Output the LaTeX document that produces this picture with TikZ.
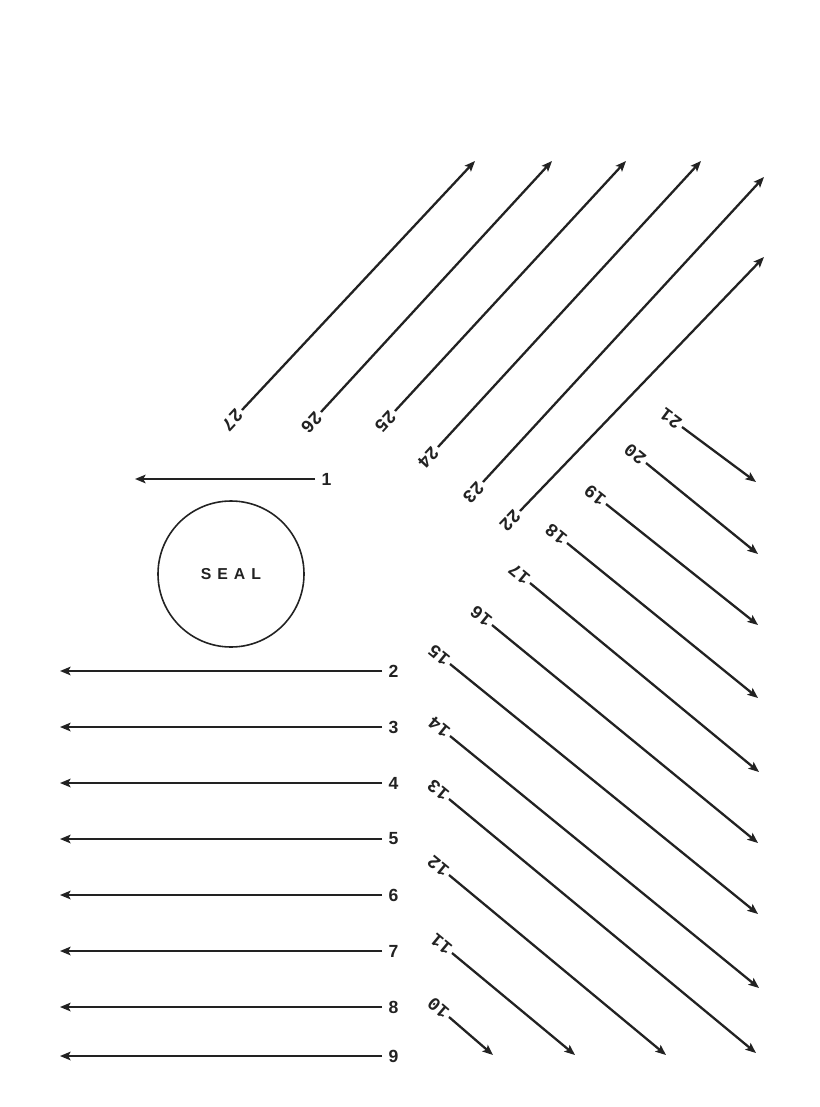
\documentclass[tikz,border=0pt]{standalone}
\usepackage{fontspec}
\setmainfont{Liberation Sans}
\newfontfamily\typefont{Liberation Mono}
\usetikzlibrary{arrows.meta}
\definecolor{ink}{HTML}{222222}

\begin{document}
\begin{tikzpicture}[
  x=0.2mm, y=-0.2mm,
  ray/.style={draw=ink, line width=1.3pt, -{Stealth[length=2.1mm,width=1.7mm,inset=0.45mm]}},
  hnum/.style={font=\bfseries\fontsize{10}{10}\selectfont, text=ink,
    inner sep=3.5pt, sloped, allow upside down, pos=1, anchor=west},
  dnum/.style={font=\typefont\bfseries\fontsize{10.5}{10.5}\selectfont, text=ink,
    inner sep=1.5pt, sloped, allow upside down, pos=1, anchor=west},
  seal/.style={draw=ink, line width=0.9pt, circle, minimum size=29.2mm, inner sep=0pt,
    text=ink, font=\bfseries\fontsize{9}{9}\selectfont}
]
\path[use as bounding box, fill=white] (0,0) rectangle (820,1107);

\node[seal] (seal) at (231,574) {S\kern3.4pt E\kern3.4pt A\kern3.4pt L};

\path (135,479) coordinate (t1) -- (315,479) node[hnum] (l1) {1};
\path (60,671) coordinate (t2) -- (382,671) node[hnum] (l2) {2};
\path (60,727) coordinate (t3) -- (382,727) node[hnum] (l3) {3};
\path (60,783) coordinate (t4) -- (382,783) node[hnum] (l4) {4};
\path (60,839) coordinate (t5) -- (382,839) node[hnum] (l5) {5};
\path (60,895) coordinate (t6) -- (382,895) node[hnum] (l6) {6};
\path (60,951) coordinate (t7) -- (382,951) node[hnum] (l7) {7};
\path (60,1007) coordinate (t8) -- (382,1007) node[hnum] (l8) {8};
\path (60,1056) coordinate (t9) -- (382,1056) node[hnum] (l9) {9};

\path (493,1055) coordinate (t10) -- (449,1017) node[dnum] (l10) {10};
\path (575,1055) coordinate (t11) -- (452,953) node[dnum] (l11) {11};
\path (666,1055) coordinate (t12) -- (449,875) node[dnum] (l12) {12};
\path (756,1053) coordinate (t13) -- (449,799) node[dnum] (l13) {13};
\path (759,988) coordinate (t14) -- (450,736) node[dnum] (l14) {14};
\path (758,914) coordinate (t15) -- (450,664) node[dnum] (l15) {15};
\path (758,843) coordinate (t16) -- (492,625) node[dnum] (l16) {16};
\path (759,772) coordinate (t17) -- (530,583) node[dnum] (l17) {17};
\path (758,698) coordinate (t18) -- (567,543) node[dnum] (l18) {18};
\path (758,625) coordinate (t19) -- (606,504) node[dnum] (l19) {19};
\path (758,554) coordinate (t20) -- (646,463) node[dnum] (l20) {20};
\path (756,482) coordinate (t21) -- (682,427) node[dnum] (l21) {21};

\path (764,257) coordinate (t22) -- (520,511) node[dnum] (l22) {22};
\path (764,177) coordinate (t23) -- (483,482) node[dnum] (l23) {23};
\path (701,161) coordinate (t24) -- (438,447) node[dnum] (l24) {24};
\path (626,161) coordinate (t25) -- (395,411) node[dnum] (l25) {25};
\path (552,161) coordinate (t26) -- (321,412) node[dnum] (l26) {26};
\path (475,161) coordinate (t27) -- (242,410) node[dnum] (l27) {27};

\draw[ray] (l1) -- (t1);
\draw[ray] (l2) -- (t2);
\draw[ray] (l3) -- (t3);
\draw[ray] (l4) -- (t4);
\draw[ray] (l5) -- (t5);
\draw[ray] (l6) -- (t6);
\draw[ray] (l7) -- (t7);
\draw[ray] (l8) -- (t8);
\draw[ray] (l9) -- (t9);
\draw[ray] (l10) -- (t10);
\draw[ray] (l11) -- (t11);
\draw[ray] (l12) -- (t12);
\draw[ray] (l13) -- (t13);
\draw[ray] (l14) -- (t14);
\draw[ray] (l15) -- (t15);
\draw[ray] (l16) -- (t16);
\draw[ray] (l17) -- (t17);
\draw[ray] (l18) -- (t18);
\draw[ray] (l19) -- (t19);
\draw[ray] (l20) -- (t20);
\draw[ray] (l21) -- (t21);
\draw[ray] (l22) -- (t22);
\draw[ray] (l23) -- (t23);
\draw[ray] (l24) -- (t24);
\draw[ray] (l25) -- (t25);
\draw[ray] (l26) -- (t26);
\draw[ray] (l27) -- (t27);
\end{tikzpicture}
\end{document}
